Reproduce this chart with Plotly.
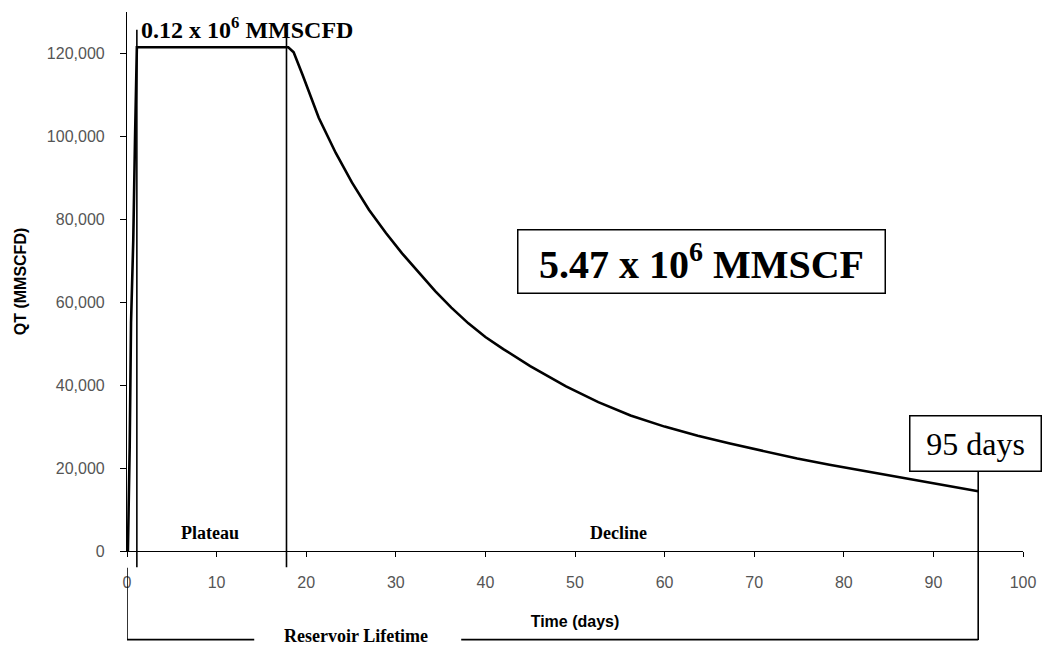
import plotly.graph_objects as go

# ---- data ----
time_days = [0.1, 0.3, 0.45, 0.7, 0.9, 1.1, 18.0, 18.6, 19.6, 21.4, 23.3, 25.1, 27.0, 28.9,
             30.7, 32.6, 34.4, 36.2, 38.1, 40.0, 42.0, 45.0, 49.0, 52.6, 56.2, 60.0,
             63.7, 67.3, 71.1, 74.8, 78.4, 82.2, 85.9, 89.6, 95.0]
qt_mmscfd = [0, 25000, 55000, 75000, 100000, 121500, 121500, 120300, 114800, 104500,
             96000, 88900, 82300, 76700, 71800, 67000, 62700, 58700, 54900, 51600,
             48700, 44600, 39700, 35900, 32700, 30000, 27800, 25900, 24000, 22300,
             20800, 19300, 17900, 16400, 14400]

plateau_start = 1.1
plateau_end = 17.8
lifetime_days = 95

x_ticks = [0, 10, 20, 30, 40, 50, 60, 70, 80, 90, 100]
y_ticks = [0, 20000, 40000, 60000, 80000, 100000, 120000]

peak_label = "<b>0.12 x 10<sup>6</sup> MMSCFD</b>"
total_label = "<b>5.47 x 10<sup>6</sup> MMSCF</b>"
life_label = "95 days"
phase_labels = ["Plateau", "Decline"]
phase_x = [9.3, 54.8]
lifetime_label = "Reservoir Lifetime"
lifetime_label_x = 25.6

SERIF = "Liberation Serif"
SANS = "Liberation Sans"

fig = go.Figure()
fig.add_trace(go.Scatter(x=time_days, y=qt_mmscfd, mode="lines",
                         line=dict(color="black", width=2.6), showlegend=False,
                         hoverinfo="skip"))

def vline(x, y0, y1, w=1.6):
    fig.add_shape(type="line", xref="x", yref="paper", x0=x, x1=x, y0=y0, y1=y1,
                  line=dict(color="black", width=w))

def hline(x0, x1, y, w=1.6):
    fig.add_shape(type="line", xref="x", yref="paper", x0=x0, x1=x1, y0=y, y1=y,
                  line=dict(color="black", width=w))

vline(plateau_start, -0.03, 0.967)
vline(plateau_end, -0.03, 0.961)
vline(lifetime_days, -0.165, 0.1466)
# Reservoir lifetime bracket
vline(0, -0.165, -0.031)
hline(0, lifetime_label_x - 11.4, -0.1645)
hline(lifetime_label_x + 11.7, lifetime_days, -0.1645)

fig.add_annotation(x=plateau_start, xref="x", y=0.97, yref="paper", text=peak_label,
                   showarrow=False, xanchor="left", yanchor="middle", xshift=2,
                   font=dict(family=SERIF, size=24, color="black"))

fig.add_annotation(x=64.1, y=69760, xref="x", yref="y", text=total_label,
                   showarrow=False, xanchor="center", yanchor="middle",
                   font=dict(family=SERIF, size=40, color="black"),
                   bordercolor="black", borderwidth=1.5, borderpad=3,
                   bgcolor="white", width=360, height=56)

fig.add_annotation(x=94.72, y=25900, xref="x", yref="y", text=life_label,
                   showarrow=False, xanchor="center", yanchor="middle",
                   font=dict(family=SERIF, size=32, color="black"),
                   bordercolor="black", borderwidth=1.5, borderpad=3,
                   bgcolor="white", width=124, height=48)

for lbl, px in zip(phase_labels, phase_x):
    fig.add_annotation(x=px, xref="x", y=0.034, yref="paper", text="<b>%s</b>" % lbl,
                       showarrow=False, xanchor="center", yanchor="middle",
                       font=dict(family=SERIF, size=18, color="black"))

fig.add_annotation(x=lifetime_label_x, xref="x", y=-0.157, yref="paper",
                   text="<b>%s</b>" % lifetime_label, showarrow=False,
                   xanchor="center", yanchor="middle",
                   font=dict(family=SERIF, size=18, color="black"))

fig.update_layout(
    width=1048, height=647,
    margin=dict(l=127, r=21, t=12, b=96),
    paper_bgcolor="white", plot_bgcolor="white",
    xaxis=dict(range=[0, 100], tickvals=x_ticks, showgrid=False, zeroline=False,
               showline=True, linecolor="black", linewidth=1.2,
               ticks="outside", ticklen=5, tickcolor="black",
               ticklabelstandoff=12,
               tickfont=dict(family=SANS, size=16, color="#555"),
               title=dict(text="<b>Time (days)</b>", standoff=25,
                          font=dict(family=SANS, size=16, color="black"))),
    yaxis=dict(range=[0, 130000], tickvals=y_ticks, tickformat=",d", showgrid=False,
               zeroline=False, showline=True, linecolor="black", linewidth=1.2,
               ticks="outside", ticklen=6, tickcolor="black",
               ticklabelstandoff=12,
               tickfont=dict(family=SANS, size=16, color="#555"),
               title=dict(text="<b>QT (MMSCFD)</b>", standoff=16,
                          font=dict(family=SANS, size=16, color="black"))),
)

fig.write_html("out.html", config={"displayModeBar": False},
               post_script="document.body.style.margin='0';document.body.style.overflow='hidden';")
